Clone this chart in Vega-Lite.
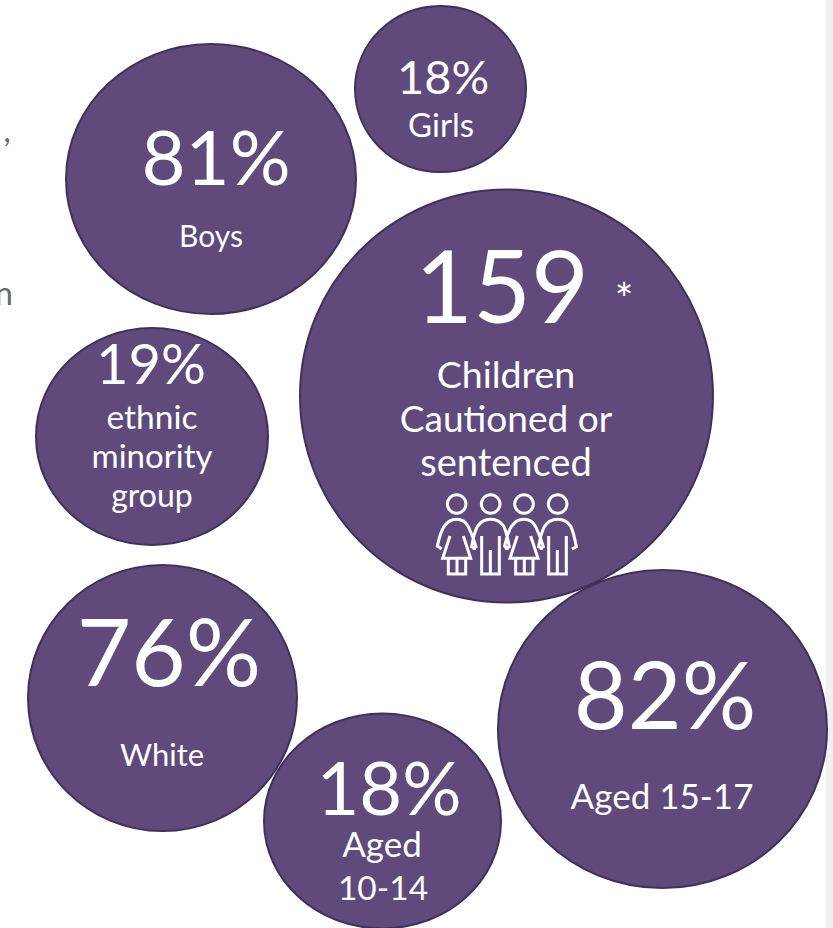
{"$schema":"https://vega.github.io/schema/vega-lite/v6.json","width":833,"height":928,"padding":0,"autosize":{"type":"none"},"background":"#ffffff","config":{"view":{"stroke":null}},
"datasets":{"bubbles":[
{"name":"Girls","cx":440.5,"cy":89,"w":171},
{"name":"Boys","cx":211,"cy":179,"w":290},
{"name":"Ethnic","cx":152,"cy":436.5,"w":232},
{"name":"Main","cx":506.5,"cy":396,"w":413},
{"name":"White","cx":162.5,"cy":698,"w":269},
{"name":"Aged 10-14","cx":382.5,"cy":821,"w":237},
{"name":"Aged 15-17","cx":662.5,"cy":729,"w":329}
],
"labels":[
{"t":"81%","x":216,"y":162,"s":76},{"t":"Boys","x":211,"y":238,"s":30},
{"t":"18%","x":443,"y":80,"s":47},{"t":"Girls","x":441,"y":127,"s":33},
{"t":"159","x":502,"y":293,"s":100},{"t":"*","x":624,"y":302,"s":44},
{"t":"Children","x":506,"y":377,"s":37.5},{"t":"Cautioned or","x":506,"y":421,"s":37},{"t":"sentenced","x":506,"y":465,"s":38},
{"t":"19%","x":151,"y":367,"s":56},{"t":"ethnic","x":152,"y":419,"s":33.5},{"t":"minority","x":152,"y":458,"s":33},{"t":"group","x":152,"y":497,"s":32},
{"t":"76%","x":169,"y":658,"s":94},{"t":"White","x":162,"y":757,"s":31},
{"t":"18%","x":389,"y":793,"s":74},{"t":"Aged","x":382,"y":846,"s":35},{"t":"10-14","x":383,"y":890,"s":33.5},
{"t":"82%","x":665,"y":701,"s":93},{"t":"Aged 15-17","x":662,"y":798,"s":35}
]},
"layer":[
{"data":{"values":[{"a":826,"b":833}]},"mark":{"type":"rect","fill":"#f0f0f0"},"encoding":{"x":{"field":"a","type":"quantitative","scale":{"domain":[0,833],"nice":false,"zero":false},"axis":null},"x2":{"field":"b"}}},
{"data":{"values":[{"t":",","x":7,"y":142},{"t":"n","x":4,"y":305}]},"mark":{"type":"text","color":"#6a6a6a","fontSize":32,"font":"Lato","align":"center","baseline":"alphabetic"},"encoding":{"x":{"field":"x","type":"quantitative","scale":{"domain":[0,833],"nice":false,"zero":false},"axis":null},"y":{"field":"y","type":"quantitative","scale":{"domain":[928,0],"nice":false,"zero":false},"axis":null},"text":{"field":"t"}}},
{"data":{"name":"bubbles"},"mark":{"type":"point","filled":true,"fill":"#604a7b","fillOpacity":1,"stroke":"#41305a","strokeWidth":2,"opacity":1},"encoding":{"x":{"field":"cx","type":"quantitative","scale":{"domain":[0,833],"nice":false,"zero":false},"axis":null},"y":{"field":"cy","type":"quantitative","scale":{"domain":[928,0],"nice":false,"zero":false},"axis":null},"size":{"field":"w","type":"quantitative","scale":{"type":"pow","exponent":2,"domain":[1,1000],"range":[1,1000000]},"legend":null},
"shape":{"field":"name","type":"nominal","legend":null,"scale":{"domain":["Girls","Boys","Ethnic","Main","White","Aged 10-14","Aged 15-17"],"range":[
"M-1 0C-1 -0.537 -0.552 -0.971 0 -0.971C0.552 -0.971 1 -0.537 1 0C1 0.537 0.552 0.971 0 0.971C-0.552 0.971 -1 0.537 -1 0Z",
"M-1 0C-1 -0.514 -0.552 -0.931 0 -0.931C0.552 -0.931 1 -0.514 1 0C1 0.514 0.552 0.931 0 0.931C-0.552 0.931 -1 0.514 -1 0Z",
"M-1 0C-1 -0.516 -0.552 -0.935 0 -0.935C0.552 -0.935 1 -0.516 1 0C1 0.516 0.552 0.935 0 0.935C-0.552 0.935 -1 0.516 -1 0Z",
"M-1 0C-1 -0.552 -0.552 -1 0 -1C0.552 -1 1 -0.552 1 0C1 0.552 0.552 1 0 1C-0.552 1 -1 0.552 -1 0Z",
"M-1 0C-1 -0.546 -0.552 -0.989 0 -0.989C0.552 -0.989 1 -0.546 1 0C1 0.546 0.552 0.989 0 0.989C-0.552 0.989 -1 0.546 -1 0Z",
"M-1 0C-1 -0.5 -0.552 -0.907 0 -0.907C0.552 -0.907 1 -0.5 1 0C1 0.5 0.552 0.907 0 0.907C-0.552 0.907 -1 0.5 -1 0Z",
"M-1 0C-1 -0.533 -0.552 -0.967 0 -0.967C0.552 -0.967 1 -0.533 1 0C1 0.533 0.552 0.967 0 0.967C-0.552 0.967 -1 0.533 -1 0Z"
]}}}},
{"data":{"values":[{"name":"children icon","cx":507,"cy":534}]},"mark":{"type":"point","filled":false,"stroke":"#ffffff","strokeWidth":3,"opacity":1,"size":0.4444,"shape":"M-196 45L-209 36Q-200 -5 -189 -22Q-175 -44 -151 -44Q-127 -44 -116 -22Q-103 5 -93 38L-104 45M-171 6L-193 73L-109 73L-131 6M-176 73L-176 120L-124 120L-124 73M-150 73L-150 120M-93 45L-106 38Q-100 0 -89 -22Q-75 -44 -49 -44Q-23 -44 -9 -22Q0 0 7 38L-6 45M-76 6L-76 120L-23 120L-23 6M-50 48L-50 120M6 45L-7 36Q2 -5 13 -22Q27 -44 51 -44Q75 -44 86 -22Q99 5 109 38L98 45M31 6L9 73L93 73L71 6M26 73L26 120L78 120L78 73M52 73L52 120M108 45L95 38Q101 0 112 -22Q126 -44 152 -44Q178 -44 192 -22Q201 0 208 38L195 45M125 6L125 120L178 120L178 6M151 48L151 120M-179 -90C-179 -105 -166 -118 -151 -118C-136 -118 -123 -105 -123 -90C-123 -75 -136 -62 -151 -62C-166 -62 -179 -75 -179 -90ZM-77 -90C-77 -105 -64 -118 -49 -118C-34 -118 -21 -105 -21 -90C-21 -75 -34 -62 -49 -62C-64 -62 -77 -75 -77 -90ZM23 -90C23 -105 36 -118 51 -118C66 -118 79 -105 79 -90C79 -75 66 -62 51 -62C36 -62 23 -75 23 -90ZM124 -90C124 -105 137 -118 152 -118C167 -118 180 -105 180 -90C180 -75 167 -62 152 -62C137 -62 124 -75 124 -90Z"},"encoding":{"x":{"field":"cx","type":"quantitative","scale":{"domain":[0,833],"nice":false,"zero":false},"axis":null},"y":{"field":"cy","type":"quantitative","scale":{"domain":[928,0],"nice":false,"zero":false},"axis":null}}},
{"data":{"name":"labels"},"mark":{"type":"text","color":"#ffffff","font":"Lato","align":"center","baseline":"middle"},"encoding":{"x":{"field":"x","type":"quantitative","scale":{"domain":[0,833],"nice":false,"zero":false},"axis":null},"y":{"field":"y","type":"quantitative","scale":{"domain":[928,0],"nice":false,"zero":false},"axis":null},"text":{"field":"t"},"size":{"field":"s","type":"quantitative","scale":null}}}
]}
